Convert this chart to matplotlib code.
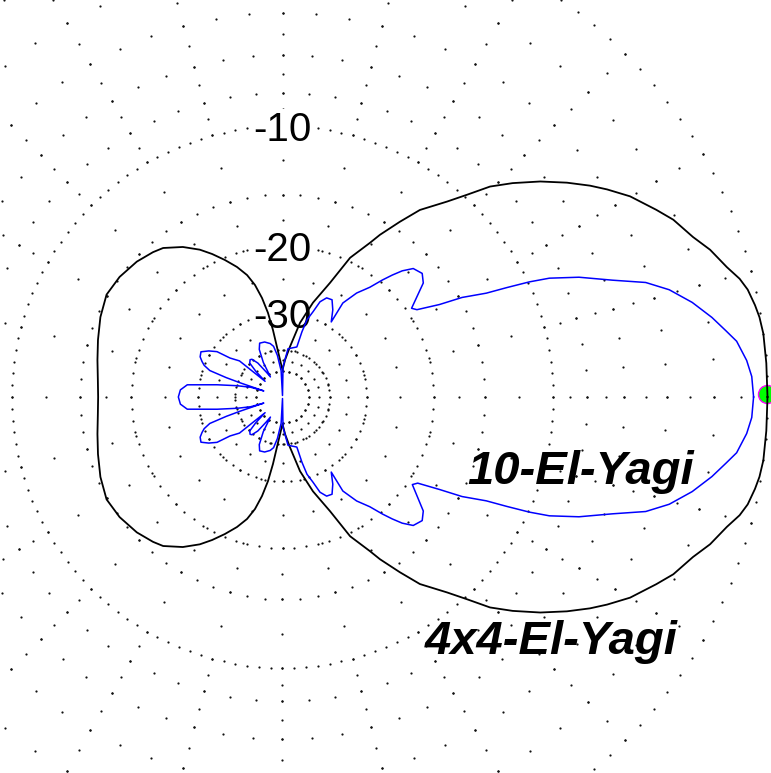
import numpy as np
import matplotlib.pyplot as plt

# azimuth pattern, ARRL log scale (radius x0.89 per 2 dB), 0 dB at the rim
# 4x4-El-Yagi (black)
black_deg = [0, 4, 7.5, 9.5, 11, 13, 14.5, 16.3, 19, 21.3, 24.4, 26.6, 30, 32.6, 34.5, 37, 39.9,
             42.9, 45.4, 47.6, 49.9, 53.7, 56.2, 59, 60.4, 64.1, 67.4, 72.1, 76.7, 81.5, 86, 90,
             96.3, 98.1, 99.8, 101.7, 103.8, 106.2, 109.3, 112.8, 116.2, 119.3, 123.6, 128.7, 131.8,
             137.1, 143.6, 149.8, 156.3, 162.8, 168.7, 174.7, 180,
             185.3, 191.3, 197.2, 203.7, 210.2, 216.4, 222.9, 228.2, 231.3, 236.4, 240.7, 243.8,
             247.2, 250.7, 253.8, 256.2, 258.3, 260.2, 261.9, 263.7, 270, 274, 278.5, 283.3, 287.9,
             292.6, 295.9, 299.6, 301, 303.8, 306.3, 310.1, 312.4, 314.6, 317.1, 320.1, 323, 325.5,
             327.4, 330, 333.4, 335.6, 338.7, 341, 343.7, 345.5, 347, 349, 350.5, 352.5, 356, 360]
black_db = [0, 0, 0, -0.05, -0.13, -0.27, -0.46, -0.8, -1.2, -1.65, -2.1, -2.55, -3.25, -3.95, -4.5,
            -5.3, -6.3, -7.45, -8.5, -9.8, -11.0, -12.65, -14.3, -16.15, -17.25, -19.6, -23.45, -27.25,
            -31.75, -38.65, -44.0, -49.6, -38.9, -33.8, -29.8, -26.9, -24.65, -23.0, -21.6, -20.3,
            -19.1, -18.1, -17.0, -16.0, -15.7, -15.3, -15.0, -14.9, -15.3, -15.8, -16.2, -16.5, -16.6,
            -16.5, -16.2, -15.8, -15.3, -14.9, -15.0, -15.3, -15.7, -16.0, -17.0, -18.1, -19.1, -20.3,
            -21.6, -23.0, -24.65, -26.9, -29.8, -33.8, -38.9, -49.6, -44.0, -38.65, -31.75, -27.25,
            -23.45, -19.6, -17.25, -16.15, -14.3, -12.65, -11.0, -9.8, -8.5, -7.45, -6.3, -5.3, -4.5,
            -3.95, -3.25, -2.55, -2.1, -1.65, -1.2, -0.8, -0.46, -0.27, -0.13, -0.05, 0, 0, 0]

# 10-El-Yagi (blue)
blue_deg = [0, 2.5, 4.5, 7, 8.5, 10.5, 13, 15.5, 17.5, 19.5, 22, 24, 25, 26, 27, 29, 30.5, 33, 34.5,
            39, 41.5, 44.5, 46.5, 48, 49.5, 51.5, 54.5, 57.3, 57.0, 60, 63, 66, 68.5, 70.3, 72.4, 73.4,
            74, 83.5, 89, 90,
            93, 97, 100, 103, 108, 113, 116, 119, 121, 123, 126, 129, 131, 134, 136, 138, 140, 143.4,
            145.3, 148, 151, 154, 156.2, 158, 160, 161, 161.5, 162, 163, 166, 169.4, 172.7, 176, 180,
            184, 187.3, 190.6, 194, 197, 198, 198.5, 199, 200, 202, 203.8, 206, 209, 212, 214.7, 216.6,
            220, 222, 224, 226, 229, 231, 234, 237, 239, 241, 244, 247, 252, 257, 260, 263, 267, 270,
            271, 276.5, 286, 286.6, 287.6, 289.7, 291.5, 294, 297, 300, 303, 302.7, 305.5, 308.5, 310.5,
            312, 313.5, 315.5, 318.5, 321, 326, 327.5, 329.5, 331, 333, 334, 335, 336, 338, 340.5, 342.5,
            344.5, 347, 349.5, 351.5, 353, 355.5, 357.5, 360]
blue_db = [-0.5, -0.55, -0.7, -1.0, -1.35, -1.8, -2.45, -3.25, -4.15, -5.6, -7.15, -8.7, -9.9, -11.4,
           -12.9, -14.75, -16.8, -19.0, -19.4, -16.9, -16.4, -16.7, -17.6, -18.6, -19.7, -21.3, -22.9,
           -25.2, -29.0, -27.0, -25.6, -25.7, -26.7, -28.8, -30.7, -33.7, -38.3, -39.5, -47.6, -99.0,
           -50.0, -42.0, -38.5, -37.4, -36.5, -36.3, -38.0, -43.0, -52.0, -48.0, -42.0, -39.5, -39.2,
           -40.0, -44.0, -52.0, -37.0, -34.4, -31.0, -29.5, -28.3, -28.6, -29.3, -30.0, -31.5, -36.0,
           -41.0, -55.0, -46.0, -40.2, -34.1, -27.8, -26.7, -26.4,
           -26.7, -27.8, -34.1, -40.2, -46.0, -55.0, -41.0, -36.0, -31.5, -30.0, -29.3, -28.6, -28.3,
           -29.5, -31.0, -34.4, -37.0, -52.0, -44.0, -40.0, -39.2, -39.5, -42.0, -48.0, -52.0, -43.0,
           -38.0, -36.3, -36.5, -37.4, -38.5, -42.0, -50.0, -99.0,
           -47.6, -39.5, -38.3, -33.7, -30.7, -28.8, -26.7, -25.7, -25.6, -27.0, -29.0, -25.2, -22.9,
           -21.3, -19.7, -18.6, -17.6, -16.7, -16.4, -16.9, -19.4, -19.0, -16.8, -14.75, -12.9, -11.4,
           -9.9, -8.7, -7.15, -5.6, -4.15, -3.25, -2.45, -1.8, -1.35, -1.0, -0.7, -0.55, -0.5]

# grid: dB rings with their dot step (deg), spokes every 15 deg
ring_db = [0, -2, -4, -6, -8, -10, -15, -20, -30, -40, -50]
ring_step = [2.5, 5, 5, 5, 5, 2.5, 5, 4.5, 6, 8, 15]
ring_labels = [-10, -20, -30]
spoke_step = 15
cursor_deg, cursor_db = 0.4, 0.0


def fwd(db):
    return 0.89 ** (-np.asarray(db, dtype=float) / 2)


def inv(r):
    r = np.clip(np.asarray(r, dtype=float), 1e-30, None)
    return -2 * np.log(r) / np.log(0.89)


W, H = 771, 773
cx, cy, R = 282.5, 397.0, 485.0   # pixels, centre and 0 dB radius

fig = plt.figure(figsize=(W / 100, H / 100), dpi=100)
ax = fig.add_axes([(cx - R) / W, (H - cy - R) / H, 2 * R / W, 2 * R / H], projection='polar')
ax.set_rscale('function', functions=(fwd, inv))
ax.set_ylim(-300, 0)
ax.set_xticks([])
ax.set_yticks([])
ax.grid(False)
ax.spines['polar'].set_visible(False)
ax.patch.set_visible(False)

dot = dict(ls='none', marker='o', ms=1.6, mew=0, color='#111111', clip_on=False, zorder=1)
for lvl, st in zip(ring_db, ring_step):
    th = np.deg2rad(np.arange(0, 360, st))
    ax.plot(th, np.full(th.shape, lvl), **dot)

# spoke dots on rings and half way between rings
r_ring = fwd(ring_db)
mids = inv((r_ring[:-1] + r_ring[1:]) / 2)
spoke_levels = np.concatenate([ring_db, mids])
for a in np.arange(0, 360, spoke_step):
    ax.plot(np.full(spoke_levels.shape, np.deg2rad(a)), spoke_levels, **dot)

for lvl in ring_labels:
    ax.text(np.pi / 2, lvl, str(lvl), ha='center', va='center_baseline', fontsize=29,
            family='Liberation Sans', zorder=2,
            bbox=dict(boxstyle='square,pad=0.05', fc='white', ec='none'))

ax.plot(np.deg2rad(cursor_deg), cursor_db, ls='none', marker='o', ms=13,
        mfc='#00ff00', mec='#ff00ff', mew=1.0, clip_on=False, zorder=3)

ax.plot(np.deg2rad(black_deg), black_db, color='black', lw=1.3, clip_on=False, zorder=4)
ax.plot(np.deg2rad(blue_deg), blue_db, color='#0000ff', lw=1.1, clip_on=False, zorder=5)

fig.text(467 / W, 1 - 484 / H, '10-El-Yagi', fontsize=34, fontweight='bold', fontstyle='italic',
         family='Liberation Sans', ha='left', va='baseline')
fig.text(425 / W, 1 - 654 / H, '4x4-El-Yagi', fontsize=34, fontweight='bold', fontstyle='italic',
         family='Liberation Sans', ha='left', va='baseline')

fig.savefig('out.png', dpi=100, facecolor='white')
